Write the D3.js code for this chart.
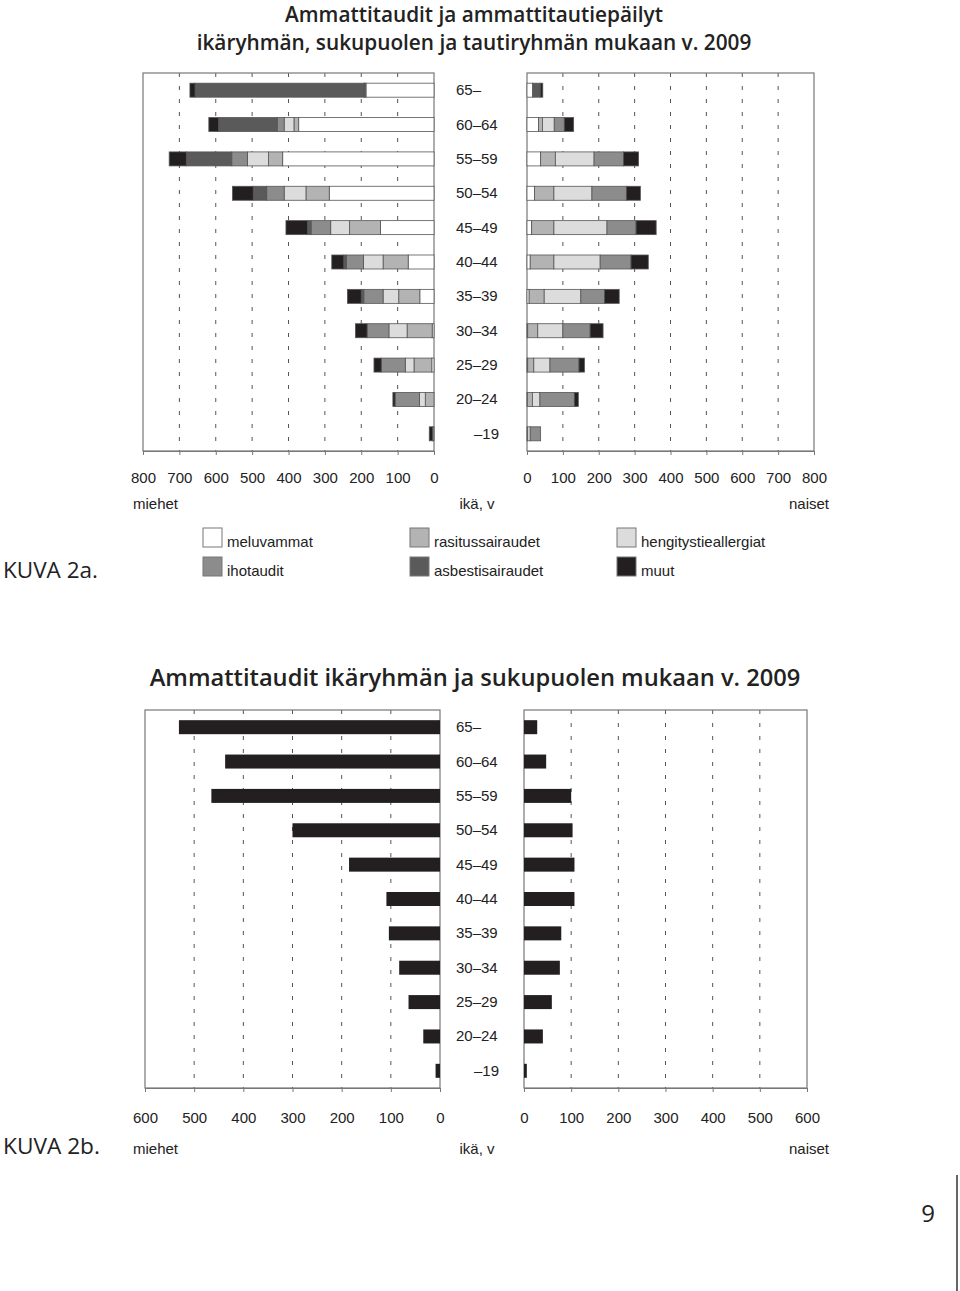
<!DOCTYPE html>
<html>
<head>
<meta charset="utf-8">
<script src="https://cdn.jsdelivr.net/npm/d3@7"></script>
<style>
  body { margin: 0; background: #fff; }
  svg text { font-family: "Liberation Sans", Arial, sans-serif; fill: #222; }
  .hum { font-family: "Open Sans", "Noto Sans", sans-serif !important; }
</style>
</head>
<body>
<svg id="chart" width="960" height="1291"></svg>
<script>
// ── data ──
const ages = ['65–', '60–64', '55–59', '50–54', '45–49', '40–44', '35–39', '30–34', '25–29', '20–24', '–19'];
const groups = ['meluvammat', 'rasitussairaudet', 'hengitystieallergiat', 'ihotaudit', 'asbestisairaudet', 'muut'];
const groupColors = ['#ffffff', '#b3b3b3', '#dcdcdc', '#8c8c8c', '#5a5a5a', '#231f20'];

// KUVA 2a, miehet (one array per disease group, same order as ages)
const menMelu     = [187, 372, 416, 288, 147, 71, 39, 5, 6, 0, 0];
const menRasitus  = [2, 13, 39, 64, 85, 69, 58, 69, 49, 24, 0];
const menHengitys = [2, 27, 58, 60, 52, 54, 43, 50, 24, 16, 0];
const menIho      = [1, 19, 43, 48, 54, 47, 53, 60, 66, 67, 4];
const menAsbest   = [465, 161, 125, 37, 10, 7, 7, 0, 0, 0, 0];
const menMuut     = [14, 27, 47, 57, 59, 33, 38, 32, 20, 6, 9];

// KUVA 2a, naiset
const womenMelu     = [16, 32, 38, 21, 13, 9, 6, 2, 2, 1, 2];
const womenRasitus  = [0, 11, 41, 54, 62, 66, 42, 28, 17, 14, 0];
const womenHengitys = [0, 33, 108, 106, 148, 129, 102, 70, 45, 21, 7];
const womenIho      = [0, 28, 82, 96, 81, 86, 66, 76, 81, 96, 29];
const womenAsbest   = [21, 0, 0, 0, 0, 0, 0, 0, 0, 0, 0];
const womenMuut     = [7, 26, 42, 39, 56, 48, 41, 36, 15, 11, 0];

// KUVA 2b, ammattitaudit yhteensä
const menTotal   = [531, 437, 465, 300, 185, 109, 104, 83, 64, 34, 9];
const womenTotal = [28, 47, 100, 103, 107, 107, 79, 76, 59, 40, 6];

const ticks2a = [0, 100, 200, 300, 400, 500, 600, 700, 800];
const ticks2b = [0, 100, 200, 300, 400, 500, 600];

const svg = d3.select('#chart');

// helper: scale font so text fills a given width
function fitText(sel, width) {
  const fs = parseFloat(sel.attr('font-size'));
  const w = sel.node().getComputedTextLength();
  if (w > 0) sel.attr('font-size', fs * width / w);
  return sel;
}

function toRows(cols) {
  return ages.map((a, i) => {
    const r = { age: a };
    groups.forEach((g, j) => { r[g] = cols[j][i]; });
    return r;
  });
}

// ── one half of a pyramid: frame, grid, axis ──
function panel(x, yTop, yBot, ticks, pad) {
  const [x0, x1] = [Math.min(...x.range()), Math.max(...x.range())];
  const g = svg.append('g');
  g.selectAll('line.grid')
    .data(ticks.slice(1, -1))
    .join('line')
    .attr('x1', d => x(d)).attr('x2', d => x(d))
    .attr('y1', yTop).attr('y2', yBot)
    .attr('stroke', '#555')
    .attr('stroke-width', 1)
    .attr('stroke-dasharray', '4,9');
  g.append('rect')
    .attr('x', x0).attr('y', yTop)
    .attr('width', x1 - x0).attr('height', yBot - yTop)
    .attr('fill', 'none')
    .attr('stroke', '#777')
    .attr('stroke-width', 1.2);
  const ax = g.append('g')
    .attr('transform', `translate(0,${yBot})`)
    .call(d3.axisBottom(x).tickValues(ticks).tickSize(4).tickSizeOuter(0).tickPadding(pad));
  ax.select('.domain').attr('stroke', '#777').attr('stroke-width', 1.2);
  ax.selectAll('.tick line').attr('stroke', '#777');
  ax.selectAll('.tick text')
    .attr('font-size', 15)
    .attr('font-family', '"Liberation Sans", Arial, sans-serif')
    .attr('fill', '#222');
  return g;
}

function ageLabels(y, xLeft, xRight) {
  svg.append('g').selectAll('text')
    .data(ages)
    .join('text')
    .attr('x', d => d.startsWith('–') ? xRight : xLeft)
    .attr('text-anchor', d => d.startsWith('–') ? 'end' : 'start')
    .attr('y', d => y(d) + 5)
    .attr('font-size', 15)
    .text(d => d);
}

function bottomLabels(yLab) {
  svg.append('text').attr('x', 133).attr('y', yLab).attr('font-size', 15).text('miehet');
  svg.append('text').attr('x', 477).attr('y', yLab).attr('font-size', 15)
    .attr('text-anchor', 'middle').text('ikä, v');
  svg.append('text').attr('x', 829).attr('y', yLab).attr('font-size', 15)
    .attr('text-anchor', 'end').text('naiset');
}

// ═══════════════════════════════════════════
//  KUVA 2a
// ═══════════════════════════════════════════
fitText(svg.append('text').attr('class', 'hum')
  .attr('x', 474).attr('y', 22).attr('text-anchor', 'middle')
  .attr('font-size', 20).attr('font-weight', 600)
  .text('Ammattitaudit ja ammattitautiepäilyt'), 378);
fitText(svg.append('text').attr('class', 'hum')
  .attr('x', 474).attr('y', 49.5).attr('text-anchor', 'middle')
  .attr('font-size', 20).attr('font-weight', 600)
  .text('ikäryhmän, sukupuolen ja tautiryhmän mukaan v. 2009'), 555);

const yA = d3.scalePoint().domain(ages).range([73, 451]).padding(0.5);
const xMenA = d3.scaleLinear().domain([0, 800]).range([434, 143]);
const xWomenA = d3.scaleLinear().domain([0, 800]).range([527, 814]);

panel(xMenA, 73, 451, ticks2a, 17);
panel(xWomenA, 73, 451, ticks2a, 17);

const stack = d3.stack().keys(groups);
const menStack = stack(toRows([menMelu, menRasitus, menHengitys, menIho, menAsbest, menMuut]));
const womenStack = stack(toRows([womenMelu, womenRasitus, womenHengitys, womenIho, womenAsbest, womenMuut]));

const barH = 14;
function drawStack(series, x) {
  svg.append('g').selectAll('g')
    .data(series)
    .join('g')
    .attr('fill', (d, i) => groupColors[i])
    .selectAll('rect')
    .data(d => d.filter(p => p[1] - p[0] > 0))
    .join('rect')
    .attr('x', p => Math.min(x(p[0]), x(p[1])))
    .attr('width', p => Math.abs(x(p[1]) - x(p[0])))
    .attr('y', p => yA(p.data.age) - barH / 2)
    .attr('height', barH)
    .attr('stroke', '#555')
    .attr('stroke-width', 0.8);
}
drawStack(menStack, xMenA);
drawStack(womenStack, xWomenA);

ageLabels(yA, 456, 499);
bottomLabels(509);

// legend
const legPos = [[203, 528], [410, 528], [617, 528], [203, 557], [410, 557], [617, 557]];
const leg = svg.append('g').selectAll('g')
  .data(groups)
  .join('g')
  .attr('transform', (d, i) => `translate(${legPos[i][0]},${legPos[i][1]})`);
leg.append('rect')
  .attr('width', 19).attr('height', 19)
  .attr('fill', (d, i) => groupColors[i])
  .attr('stroke', '#777').attr('stroke-width', 1);
leg.append('text')
  .attr('x', 24).attr('y', 19)
  .attr('font-size', 15)
  .text(d => d);

fitText(svg.append('text').attr('class', 'hum')
  .attr('x', 3).attr('y', 578).attr('font-size', 22)
  .text('KUVA 2a.'), 95);

// ═══════════════════════════════════════════
//  KUVA 2b
// ═══════════════════════════════════════════
fitText(svg.append('text').attr('class', 'hum')
  .attr('x', 475).attr('y', 686).attr('text-anchor', 'middle')
  .attr('font-size', 22).attr('font-weight', 600)
  .text('Ammattitaudit ikäryhmän ja sukupuolen mukaan v. 2009'), 651);

const yB = d3.scalePoint().domain(ages).range([710, 1088]).padding(0.5);
const xMenB = d3.scaleLinear().domain([0, 600]).range([440, 145]);
const xWomenB = d3.scaleLinear().domain([0, 600]).range([524, 807]);

panel(xMenB, 710, 1088, ticks2b, 20);
panel(xWomenB, 710, 1088, ticks2b, 20);

svg.append('g').selectAll('rect')
  .data(menTotal)
  .join('rect')
  .attr('x', d => xMenB(d))
  .attr('width', d => xMenB(0) - xMenB(d))
  .attr('y', (d, i) => yB(ages[i]) - barH / 2)
  .attr('height', barH)
  .attr('fill', '#231f20');

svg.append('g').selectAll('rect')
  .data(womenTotal)
  .join('rect')
  .attr('x', xWomenB(0))
  .attr('width', d => xWomenB(d) - xWomenB(0))
  .attr('y', (d, i) => yB(ages[i]) - barH / 2)
  .attr('height', barH)
  .attr('fill', '#231f20');

ageLabels(yB, 456, 499);
bottomLabels(1154);

fitText(svg.append('text').attr('class', 'hum')
  .attr('x', 3).attr('y', 1154).attr('font-size', 22)
  .text('KUVA 2b.'), 97);

// page number
svg.append('text').attr('class', 'hum')
  .attr('x', 928).attr('y', 1222).attr('text-anchor', 'middle')
  .attr('font-size', 24).text('9');
svg.append('line')
  .attr('x1', 957).attr('x2', 957).attr('y1', 1175).attr('y2', 1291)
  .attr('stroke', '#333').attr('stroke-width', 1.5);
</script>
</body>
</html>
